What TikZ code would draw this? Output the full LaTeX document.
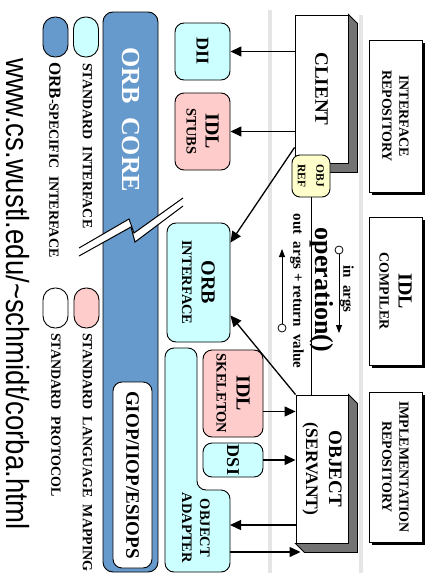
\documentclass[tikz,border=0pt]{standalone}
\usepackage{fontspec}
\setmainfont{Liberation Serif}
\newfontfamily\urlfont[FakeStretch=0.86]{Liberation Sans}
\usepackage{xcolor}
\usetikzlibrary{arrows.meta,positioning,calc}
\pgfdeclarelayer{bg}
\pgfsetlayers{bg,main}
\definecolor{corecol}{HTML}{6699CC}
\definecolor{stdcyan}{HTML}{CCFFFF}
\definecolor{langpink}{HTML}{FFCCCC}
\definecolor{refyellow}{HTML}{FFFFCC}
\newcommand\fsz[1]{\fontsize{#1}{#1}\selectfont}

\tikzset{
  part/.style={draw, line width=.9pt, rounded corners=9pt, rotate=-90, align=center, inner sep=0pt, font=\bfseries},
  stdif/.style={part, fill=stdcyan},
  langmap/.style={part, fill=langpink},
  solid box/.style={draw, line width=.9pt, fill=white, rotate=-90, align=center, inner sep=0pt, font=\bfseries},
  slab/.style={draw, line width=.9pt, fill=black!55},
  pill/.style={draw, line width=.9pt, rounded corners=12pt, minimum width=40pt, minimum height=25pt, rotate=-90},
  key/.style={rotate=-90, anchor=west, inner sep=0pt, font=\bfseries\fsz{14}},
  call/.style={-{Triangle[length=11pt,width=10pt]}, line width=1.3pt},
  flow/.style={-{Triangle[length=8pt,width=6pt]}, line width=.8pt},
  dot/.style={circle, draw, fill=white, line width=.8pt, inner sep=0pt, minimum size=8pt},
  lane/.style={line width=4pt, gray!20},
}

\begin{document}
\begin{tikzpicture}[x=1pt, y=-1pt]
\useasboundingbox (0,0) rectangle (431,573);
\begin{pgfonlayer}{bg}
\fill[white] (0,0) rectangle (431,573);
\end{pgfonlayer}

% repositories
\node[solid box, minimum width=152pt, minimum height=53pt, font=\bfseries\fontsize{14}{17}\selectfont] (IR) at (395.5,116) {INTERFACE\\REPOSITORY};
\node[solid box, minimum width=148pt, minimum height=53pt, font=\bfseries\fontsize{14}{19}\selectfont] (IDLC) at (395.5,291) {{\fsz{20}IDL}\\COMPILER};
\node[solid box, minimum width=150pt, minimum height=53pt, font=\bfseries\fontsize{14}{17}\selectfont] (IMPL) at (395.5,467) {IMPLEMENTATION\\REPOSITORY};

\begin{pgfonlayer}{bg}
\draw[lane] (270,10) -- (270,573);
\draw[lane] (361,15) -- (361,573);
\foreach \r in {IR,IDLC,IMPL}
  \fill ([shift={(3,3)}]\r.south west) rectangle ([shift={(3,3)}]\r.north east);
\end{pgfonlayer}

% client and servant
\node[solid box, minimum width=148pt, minimum height=53pt, font=\bfseries\fsz{19}] (CLIENT) at (321.5,89) {CLIENT};
\draw[slab] (CLIENT.north west) -- ++(9,9) -- ([shift={(9,9)}]CLIENT.north east) -- ([shift={(9,9)}]CLIENT.south east) -- (CLIENT.south east) -- (CLIENT.north east) -- cycle;
\node[part, fill=refyellow, rounded corners=8pt, minimum width=42pt, minimum height=38pt, font=\bfseries\fontsize{11.5}{18.5}\selectfont] (OBJREF) at (311,176) {OBJ\\REF};

\node[solid box, minimum width=148pt, minimum height=52pt, font=\bfseries\fontsize{17.5}{23}\selectfont] (OBJECT) at (322,469) {{\fsz{19}OBJECT}\\(SERVANT)};
\draw[slab] (OBJECT.north west) -- ++(9,9) -- ([shift={(9,9)}]OBJECT.north east) -- ([shift={(9,9)}]OBJECT.south east) -- (OBJECT.south east) -- (OBJECT.north east) -- cycle;

% the request
\draw[line width=.8pt] (OBJREF.east) -- (OBJREF.east |- OBJECT.west);
\node[rotate=-90, font=\bfseries\fsz{26}] (op) at (322,290) {operation()};
\node[rotate=-90, font=\bfseries\fsz{15}] (inargs) at (347,289) {in\ \ args};
\node[dot] (inpt) at (339,250) {};
\coordinate (inend) at (339,333);
\draw[flow] (inpt) -- (inend);
\node[rotate=-90, font=\bfseries\fsz{15}] (outargs) at (297,291) {out\ \ args\ +\ return\ \ value};
\node[dot] (outpt) at (282,328) {};
\coordinate (outend) at (282,249);
\draw[flow] (outpt) -- (outend);

% ORB parts
\node[part, fill=corecol, rounded corners=10pt, minimum width=560pt, minimum height=55pt] (CORE) at (130.5,292) {};
\node[rotate=-90, text=white, font=\bfseries\fsz{26}] (coretxt) at (131,120) {ORB\ \ CORE};
\node[part, fill=white, minimum width=186pt, minimum height=39pt, font=\bfseries\fsz{19}] (GIOP) at (132.5,475) {GIOP/IIOP/ESIOPS};

\fill[white] (79,248) -- (129,219) -- (134,233) -- (183,198) -- (183,206) -- (135,242) -- (131,227) -- (79,256) -- cycle;
\draw[line width=1pt] (79,248) -- (129,219) -- (134,233) -- (183,198);
\draw[line width=1pt] (79,256) -- (131,227) -- (135,242) -- (183,206);

\node[stdif, minimum width=57pt, minimum height=55pt, font=\bfseries\fsz{18}] (DII) at (202.5,51.5) {DII};
\node[langmap, minimum width=77pt, minimum height=55pt, font=\bfseries\fontsize{14.5}{19}\selectfont] (STUBS) at (202.5,131.5) {{\fsz{20}IDL}\\STUBS};
\node[stdif, minimum width=119pt, minimum height=63pt, font=\bfseries\fontsize{14.5}{19.5}\selectfont] (ORBI) at (198.5,282.5) {{\fsz{20}ORB}\\INTERFACE};
\node[langmap, minimum width=87pt, minimum height=60pt, font=\bfseries\fontsize{14.5}{20}\selectfont] (SKEL) at (233,393.5) {{\fsz{20}IDL}\\SKELETON};
\node[stdif, minimum width=34pt, minimum height=60pt, font=\bfseries\fsz{18}] (DSI) at (233,460) {DSI};

\draw[line width=.9pt, fill=stdcyan, rounded corners=9pt] (165,572) -- (165,348) -- (197,348) -- (197,490) -- (230,490) -- (230,572) -- cycle;
\node[rotate=-90, align=center, font=\bfseries\fontsize{14.5}{18}\selectfont] (OA) at (196,528) {OBJECT\\ADAPTER};
\coordinate (oain) at (230,525);
\coordinate (oaout) at (230,552);

% calls
\draw[call] (CLIENT.south |- DII) -- (DII.north);
\draw[call] (CLIENT.south |- STUBS) -- (STUBS.north);
\draw[call] ([yshift=16pt]CLIENT.south east) -- ([yshift=-20pt]ORBI.north west);
\draw[call] (OBJECT.south west) -- ([yshift=27pt]ORBI.north east);
\coordinate (skin) at ([yshift=-18pt]SKEL.north);
\draw[call] (skin) -- (skin -| OBJECT.south);
\draw[call] (DSI.north) -- (DSI.north -| OBJECT.south);
\draw[call] (OBJECT.south |- oain) -- (oain);
\coordinate (objfoot) at ([xshift=5pt]OBJECT.south);
\draw[call] (oaout) -- (objfoot |- oaout);

% key
\node[pill, fill=corecol] (kcore) at (55.5,37) {};
\node[pill, fill=stdcyan] (kstd) at (86,37) {};
\node[pill, fill=langpink] (klang) at (86.5,308) {};
\node[pill, fill=white] (kproto) at (55.5,308) {};
\node[key] (kstdtxt) at (87.5,63) {STANDARD\ \ INTERFACE};
\node[key] (kcoretxt) at (55,62) {{\fsz{17}ORB}-SPECIFIC\ \ INTERFACE};
\node[key] (klangtxt) at (87.5,333) {STANDARD\ \ LANGUAGE\ \ MAPPING};
\node[key] (kprototxt) at (56,333) {STANDARD\ \ PROTOCOL};

\node[rotate=-90, anchor=west, inner sep=0pt, font=\urlfont\fsz{32}] (url) at (18,58) {www.cs.wustl.edu/\textasciitilde schmidt/corba.html};
\end{tikzpicture}
\end{document}
